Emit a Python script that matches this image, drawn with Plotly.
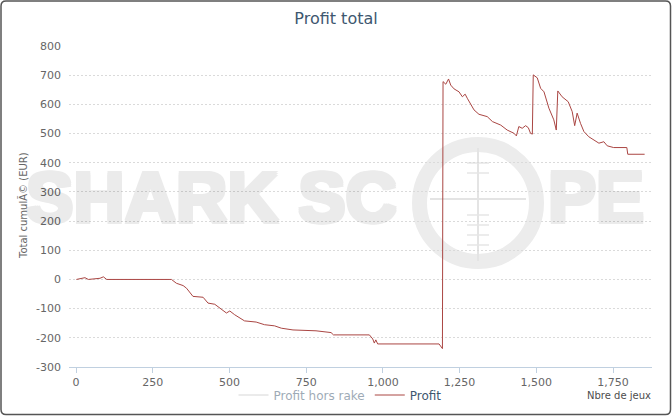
import plotly.graph_objects as go

# ---- data ----
games = [1, 29, 40, 78, 89, 100, 306, 311, 327, 349, 360, 381, 414, 430, 452, 463,
         490, 501, 517, 549, 587, 614, 647, 669, 707, 782, 831, 839, 956, 967, 972,
         977, 983, 1183, 1189, 1194, 1196, 1205, 1214, 1221, 1232, 1248, 1259, 1268,
         1275, 1297, 1313, 1340, 1357, 1384, 1405, 1427, 1435, 1443, 1454, 1465, 1474,
         1481, 1487, 1490, 1503, 1514, 1525, 1541, 1557, 1565, 1570, 1584, 1604, 1617,
         1625, 1633, 1644, 1655, 1671, 1687, 1704, 1720, 1731, 1752, 1795, 1798, 1853]
profit = [0, 6, 0, 4, 9, 0, 0, 0, -13, -21, -30, -58, -61, -81, -85, -93,
          -115, -108, -121, -142, -146, -155, -159, -167, -173, -176, -182, -190, -190, -204, -218,
          -207, -221, -221, -230, -237, 678, 669, 687, 666, 653, 643, 626, 635,
          621, 581, 566, 558, 541, 529, 512, 501, 492, 524, 518, 527, 520,
          501, 498, 701, 691, 655, 643, 587, 547, 512, 646, 626, 609, 575,
          527, 570, 535, 507, 489, 478, 467, 472, 458, 452, 452, 429, 429]

x_tickvals = [0, 250, 500, 750, 1000, 1250, 1500, 1750]
x_ticktext = ["0", "250", "500", "750", "1,000", "1,250", "1,500", "1,750"]
y_tickvals = [-300, -200, -100, 0, 100, 200, 300, 400, 500, 600, 700, 800]
y_ticktext = ["-300", "-200", "-100", "0", "100", "200", "300", "400", "500", "600", "700", "800"]

# ---- layout geometry (pixels) ----
W, H = 672, 416
PL, PR, PT, PB = 69, 652, 46, 367
PW, PH = PR - PL, PB - PT


def px(xp):
    return (xp - PL) / PW


def py(yp):
    return (PB - yp) / PH


FONT = "DejaVu Sans, Verdana, sans-serif"

fig = go.Figure()
fig.add_trace(go.Scatter(x=[None], y=[None], mode="lines", name="Profit hors rake",
                         line=dict(color="#b0b0b0", width=1), visible="legendonly"))
fig.add_trace(go.Scatter(x=games, y=profit, mode="lines", name="Profit",
                         line=dict(color="#AA4643", width=1), hoverinfo="x+y"))

shapes = []
# outer rounded border
x0, y0, x1, y1, r = 1, 1, 670.5, 414.5, 5
path = (f"M {px(x0 + r)} {py(y0)} L {px(x1 - r)} {py(y0)} Q {px(x1)} {py(y0)} {px(x1)} {py(y0 + r)} "
        f"L {px(x1)} {py(y1 - r)} Q {px(x1)} {py(y1)} {px(x1 - r)} {py(y1)} "
        f"L {px(x0 + r)} {py(y1)} Q {px(x0)} {py(y1)} {px(x0)} {py(y1 - r)} "
        f"L {px(x0)} {py(y0 + r)} Q {px(x0)} {py(y0)} {px(x0 + r)} {py(y0)} Z")
shapes.append(dict(type="path", xref="paper", yref="paper", path=path,
                   line=dict(color="#555555", width=1.5), layer="above"))

# watermark ring and crosshair
cx, cy, rr = 478, 203, 58.5
WM = "#ececec"
shapes.append(dict(type="circle", xref="paper", yref="paper",
                   x0=px(cx - rr), x1=px(cx + rr), y0=py(cy + rr), y1=py(cy - rr),
                   line=dict(color=WM, width=15), layer="below"))
shapes.append(dict(type="line", xref="paper", yref="paper", x0=px(cx), x1=px(cx),
                   y0=py(cy - 55), y1=py(cy + 58), line=dict(color="#e4e4e4", width=2), layer="below"))
shapes.append(dict(type="line", xref="paper", yref="paper", x0=px(cx - 48), x1=px(cx + 48),
                   y0=py(cy - 4), y1=py(cy - 4), line=dict(color="#e4e4e4", width=2), layer="below"))
for dy in [-40, -30, 12, 22, 32, 42]:
    shapes.append(dict(type="line", xref="paper", yref="paper", x0=px(cx - 11), x1=px(cx + 11),
                       y0=py(cy + dy), y1=py(cy + dy), line=dict(color="#e6e6e6", width=1.5), layer="below"))

WMFONT = "Liberation Sans Narrow, Arial Narrow, Liberation Sans, Arial, sans-serif"
SH = ",".join(f"{a}px {b}px 0 #000" for a, b in
              [(2, 0), (-2, 0), (0, 2), (0, -2), (2, 2), (-2, -2), (2, -2), (-2, 2), (1, 0), (-1, 0)])
annotations = [
    dict(text="<b>SHARK SC</b>", xref="paper", yref="paper", x=px(211), y=py(197),
         xanchor="center", yanchor="middle", showarrow=False, opacity=0.075,
         font=dict(family=WMFONT, size=71, color="#000000", shadow=SH)),
    dict(text="<b>PE</b>", xref="paper", yref="paper", x=px(596), y=py(197),
         xanchor="center", yanchor="middle", showarrow=False, opacity=0.075,
         font=dict(family=WMFONT, size=72, color="#000000", shadow=SH)),
    dict(text="Nbre de jeux", xref="paper", yref="paper", x=px(653), y=py(396),
         xanchor="right", yanchor="middle", showarrow=False,
         font=dict(family=FONT, size=10, color="#4d4d4d")),
    dict(text="Total cumulÃ© (EUR)", xref="paper", yref="paper", x=px(23), y=py(206),
         xanchor="center", yanchor="middle", showarrow=False, textangle=-90,
         font=dict(family=FONT, size=10, color="#666666")),
]

fig.update_layout(
    width=W, height=H,
    margin=dict(l=PL, r=W - PR, t=PT, b=H - PB, pad=0, autoexpand=False),
    paper_bgcolor="white", plot_bgcolor="rgba(0,0,0,0)",
    font=dict(family=FONT, size=11, color="#666666"),
    title=dict(text="Profit total", x=0.5, xref="container", xanchor="center",
               y=1 - 18 / H, yref="container", yanchor="middle",
               font=dict(family=FONT, size=16, color="#3E576F")),
    showlegend=True,
    legend=dict(orientation="h", x=340 / W, xanchor="center", xref="container",
                y=1 - 395 / H, yanchor="middle", yref="container",
                font=dict(family=FONT, size=12, color="#3E576F"),
                bgcolor="rgba(0,0,0,0)", itemwidth=30, traceorder="normal"),
    shapes=shapes,
    annotations=annotations,
    hovermode="closest",
)
fig.update_xaxes(range=[-23, 1877], tickvals=x_tickvals, ticktext=x_ticktext,
                 showgrid=False, zeroline=False, showline=True, linecolor="#C0D0E0", linewidth=1,
                 ticks="outside", ticklen=5, tickcolor="#C0D0E0", tickfont=dict(size=11, color="#666666"))
fig.update_yaxes(range=[-300, 800], tickvals=y_tickvals, ticktext=y_ticktext,
                 showgrid=True, gridcolor="#dadada", griddash="2px,2px", gridwidth=1,
                 zeroline=False, showline=False, ticks="", ticklabelstandoff=7,
                 tickfont=dict(size=11, color="#666666"))

fig.write_html("out.html", config={"displayModeBar": False},
               post_script="document.body.style.margin='0';document.body.style.padding='0';")
